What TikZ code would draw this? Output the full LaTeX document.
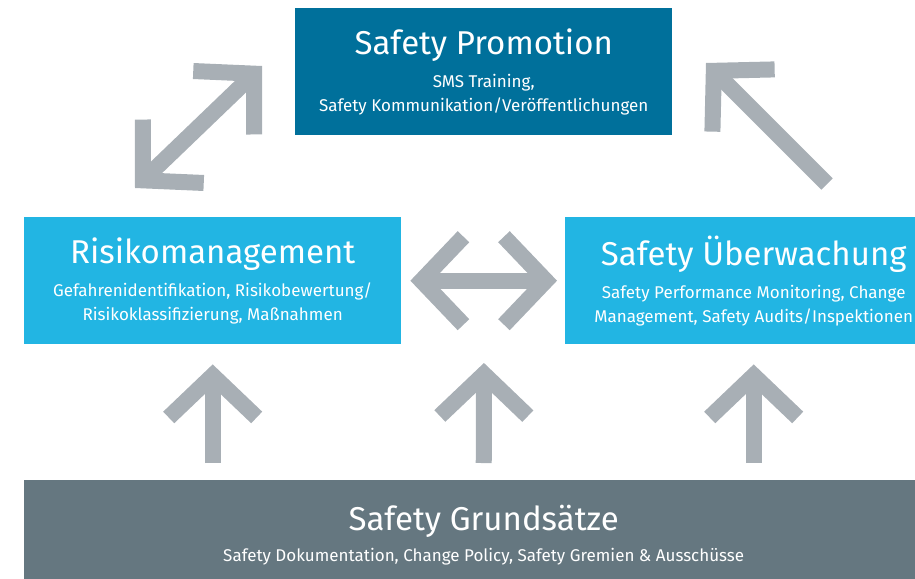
\documentclass[tikz,border=0pt]{standalone}
\usepackage{fontspec}
\setmainfont{Fira Sans}
\usepackage{xcolor}
\usetikzlibrary{positioning,arrows.meta,calc}

\definecolor{promoblue}{HTML}{00709B}
\definecolor{lightblue}{HTML}{22B5E3}
\definecolor{slate}{HTML}{657780}
\definecolor{arrgray}{HTML}{A8AFB5}

\newcommand{\titlesize}{\fontsize{33}{36}\selectfont}
\newcommand{\subsize}{\fontsize{17}{23.5}\selectfont}

\begin{document}
\begin{tikzpicture}[x=1pt, y=-1pt,
  box/.style={anchor=north west, text=white, align=center, inner sep=0pt,
    font=\subsize, minimum width=377pt, minimum height=127pt},
  arr/.style={draw=arrgray, line width=16pt,
    -{Straight Barb[sharp, length=42pt, width=88pt]}},
  dblarr/.style={arr, {Straight Barb[sharp, length=42pt, width=88pt]}-{Straight Barb[sharp, length=42pt, width=88pt]}}]
  \useasboundingbox (0,0) rectangle (915,578);
  \begin{scope}
  \clip (0,0) rectangle (915,578);
  % boxes
  \node[box, fill=promoblue] (promo) at (295,8)
    {{\titlesize Safety Promotion}\\[10pt]
     SMS Training,\\ Safety Kommunikation/Veröffentlichungen};
  \node[box, fill=lightblue] (risk) at (24,217)
    {{\titlesize Risikomanagement}\\[10pt]
     Gefahrenidentifikation, Risikobewertung/\\ Risikoklassifizierung, Maßnahmen};
  \node[box, fill=lightblue] (watch) at (565,217)
    {{\titlesize Safety Überwachung}\\[10pt]
     Safety Performance Monitoring, Change\\ Management, Safety Audits/Inspektionen};
  \node[box, fill=slate, minimum width=919pt, minimum height=110pt] (base) at (24,480)
    {{\titlesize Safety Grundsätze}\\[8pt]
     Safety Dokumentation, Change Policy, Safety Gremien \& Ausschüsse};
  \end{scope}
  % free ends of the arrows
  \coordinate (riskTop) at (135,188);
  \coordinate (promoLeft) at (262,66);
  \coordinate (promoRight) at (706,63);
  \coordinate (watchTop) at (827,184);
  \coordinate (midTop) at (484,343);
  % arrows
  \draw[dblarr] (riskTop) -- (promoLeft);
  \draw[arr] (watchTop) -- (promoRight);
  \draw[dblarr, shorten <=9pt, shorten >=8pt] (risk.east) -- (watch.west);
  \draw[arr, shorten <=17pt, shorten >=20pt] (base.north -| risk.south) -- (risk.south);
  \draw[arr, shorten <=17pt, shorten >=20pt] (base.north) -- (midTop);
  \draw[arr, shorten <=17pt, shorten >=20pt] (base.north -| watch.south) -- (watch.south);
\end{tikzpicture}
\end{document}
